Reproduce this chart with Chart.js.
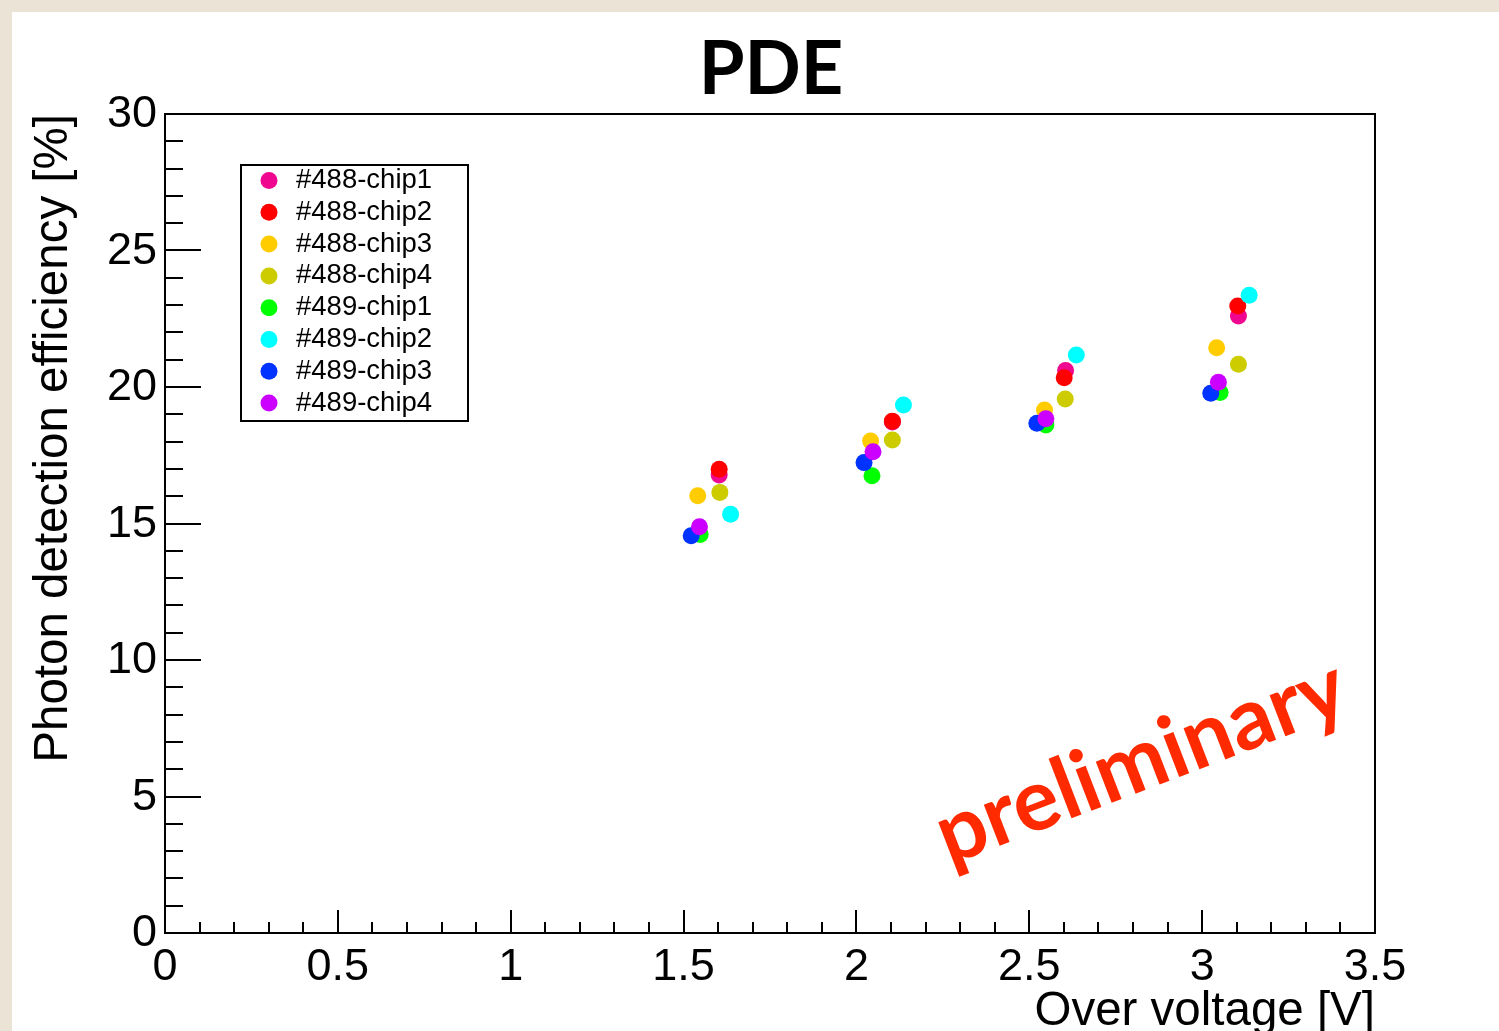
<!DOCTYPE html>
<html>
<head>
<meta charset="utf-8">
<title>PDE</title>
<script src="https://cdn.jsdelivr.net/npm/chart.js@4.4.1/dist/chart.umd.min.js"></script>
<style>
  html, body { margin: 0; padding: 0; background: #ece3d7; overflow: hidden; }
  canvas { display: block; }
</style>
</head>
<body>
<canvas id="pde-chart" width="1499" height="1031"></canvas>
<script>
// PDE vs over voltage
const chipLabels = ['#488-chip1', '#488-chip2', '#488-chip3', '#488-chip4',
                    '#489-chip1', '#489-chip2', '#489-chip3', '#489-chip4'];
const chipColors = ['#f0078f', '#ff0000', '#ffcc00', '#cccc00',
                    '#00ff00', '#00ffff', '#0033ff', '#cc00ff'];

const v488chip1 = [1.603, 2.104, 2.605, 3.105];
const pde488chip1 = [16.78, 18.72, 20.60, 22.60];
const v488chip2 = [1.603, 2.104, 2.601, 3.103];
const pde488chip2 = [16.99, 18.75, 20.34, 22.97];
const v488chip3 = [1.541, 2.041, 2.544, 3.042];
const pde488chip3 = [16.02, 18.02, 19.16, 21.44];
const v488chip4 = [1.605, 2.104, 2.604, 3.105];
const pde488chip4 = [16.14, 18.06, 19.56, 20.83];
const v489chip1 = [1.548, 2.045, 2.548, 3.052];
const pde489chip1 = [14.60, 16.75, 18.61, 19.80];
const v489chip2 = [1.636, 2.136, 2.636, 3.136];
const pde489chip2 = [15.34, 19.34, 21.17, 23.36];
const v489chip3 = [1.522, 2.022, 2.522, 3.025];
const pde489chip3 = [14.55, 17.23, 18.67, 19.77];
const v489chip4 = [1.546, 2.048, 2.548, 3.047];
const pde489chip4 = [14.88, 17.63, 18.84, 20.17];

const xTickValues = [0, 0.5, 1, 1.5, 2, 2.5, 3, 3.5];
const xTickLabels = ['0', '0.5', '1', '1.5', '2', '2.5', '3', '3.5'];
const yTickValues = [0, 5, 10, 15, 20, 25, 30];
const yTickLabels = ['0', '5', '10', '15', '20', '25', '30'];

const chipVoltages = [v488chip1, v488chip2, v488chip3, v488chip4, v489chip1, v489chip2, v489chip3, v489chip4];
const chipPde = [pde488chip1, pde488chip2, pde488chip3, pde488chip4, pde489chip1, pde489chip2, pde489chip3, pde489chip4];

const helv = '"Liberation Sans", Arial, sans-serif';

// ROOT-like frame, inner ticks, labels, legend
const rootStyle = {
    id: 'rootStyle',
    beforeDraw(chart) {
        const ctx = chart.ctx;
        ctx.save();
        ctx.fillStyle = '#ffffff';
        ctx.fillRect(12, 12, chart.width - 12, chart.height - 12);
        ctx.restore();
    },
    afterDraw(chart) {
        const { ctx, chartArea: area, scales: { x, y } } = chart;
        ctx.save();
        ctx.strokeStyle = '#000';
        ctx.lineWidth = 2;
        ctx.strokeRect(area.left, area.top, area.right - area.left, area.bottom - area.top);

        ctx.beginPath();
        for (let v = 0; v <= 30; v++) {
            const py = Math.round(y.getPixelForValue(v));
            const len = v % 5 === 0 ? 36 : 18;
            ctx.moveTo(area.left, py);
            ctx.lineTo(area.left + len, py);
        }
        for (let i = 0; i <= 35; i++) {
            const px = Math.round(x.getPixelForValue(i / 10));
            const len = i % 5 === 0 ? 23 : 11;
            ctx.moveTo(px, area.bottom);
            ctx.lineTo(px, area.bottom - len);
        }
        ctx.stroke();

        // tick labels
        ctx.fillStyle = '#000';
        ctx.font = '45px ' + helv;
        ctx.textAlign = 'right';
        ctx.textBaseline = 'middle';
        yTickValues.forEach((v, i) => {
            ctx.fillText(yTickLabels[i], area.left - 8, y.getPixelForValue(v) + 1);
        });
        ctx.textAlign = 'center';
        ctx.textBaseline = 'alphabetic';
        xTickValues.forEach((v, i) => {
            ctx.fillText(xTickLabels[i], x.getPixelForValue(v), area.bottom + 47);
        });

        // axis titles
        ctx.font = '47.5px ' + helv;
        ctx.textAlign = 'right';
        ctx.fillText('Over voltage [V]', area.right, area.bottom + 92);
        ctx.save();
        ctx.translate(67, area.top);
        ctx.rotate(-Math.PI / 2);
        ctx.fillText('Photon detection efficiency [%]', 0, 0);
        ctx.restore();

        // title
        ctx.font = 'bold 74px Lato, sans-serif';
        ctx.textAlign = 'center';
        ctx.fillText('PDE', 771, 94);

        // legend
        ctx.lineWidth = 2;
        ctx.strokeRect(241, 165, 227, 256);
        ctx.font = '27.5px ' + helv;
        ctx.textAlign = 'left';
        ctx.textBaseline = 'middle';
        chipLabels.forEach((label, i) => {
            const ly = 180.5 + i * 31.8;
            ctx.fillStyle = chipColors[i];
            ctx.beginPath();
            ctx.arc(269, ly, 8.5, 0, Math.PI * 2);
            ctx.fill();
            ctx.fillStyle = '#000';
            ctx.fillText(label, 296, ly);
        });

        // preliminary stamp
        ctx.save();
        ctx.translate(1141, 762);
        ctx.rotate(-21 * Math.PI / 180);
        ctx.fillStyle = '#ff2a00';
        ctx.font = 'bold 86px Lato, sans-serif';
        ctx.textAlign = 'center';
        ctx.textBaseline = 'middle';
        ctx.fillText('preliminary', 0, 0);
        ctx.restore();

        ctx.restore();
    }
};

function buildChart() {
    const datasets = chipLabels.map((label, i) => ({
        label: label,
        data: chipVoltages[i].map((v, j) => ({ x: v, y: chipPde[i][j] })),
        backgroundColor: chipColors[i],
        borderWidth: 0,
        pointRadius: 8.5,
        pointHoverRadius: 8.5,
        order: chipLabels.length - i, // later chips drawn on top, like ROOT
    }));

    new Chart(document.getElementById('pde-chart'), {
        type: 'scatter',
        data: { datasets: datasets },
        options: {
            responsive: false,
            animation: false,
            devicePixelRatio: 1,
            layout: { padding: { left: 165, right: 124, top: 114, bottom: 98 } },
            scales: {
                x: { type: 'linear', min: 0, max: 3.5, display: false },
                y: { type: 'linear', min: 0, max: 30, display: false },
            },
            plugins: {
                legend: { display: false },
                tooltip: { enabled: false },
            },
        },
        plugins: [rootStyle],
    });
}

Promise.all([
    document.fonts.load('45px "Liberation Sans"'),
    document.fonts.load('bold 74px Lato'),
]).then(buildChart, buildChart);
</script>
</body>
</html>
